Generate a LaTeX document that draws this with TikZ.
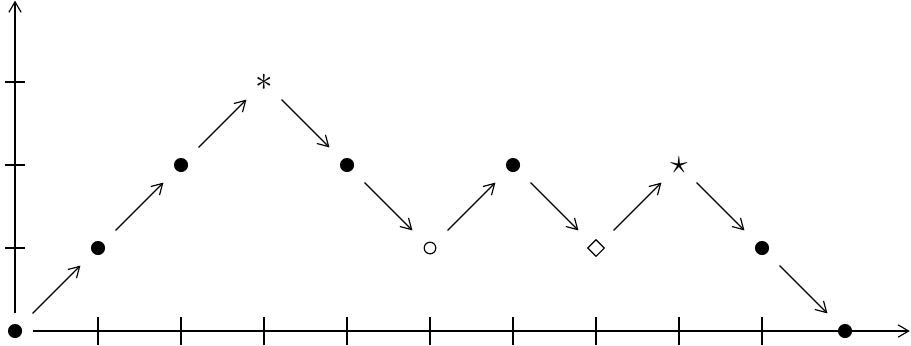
\documentclass[tikz,border=0pt]{standalone}
\usetikzlibrary{arrows.meta}
\begin{document}
\begin{tikzpicture}[x=1cm,y=1cm,
  line width=0.4pt,
  arr/.style={-{Straight Barb[length=3.6pt,width=4.2pt]}},
  pt/.style={rectangle, minimum size=0.41cm, inner sep=0pt},
  dotpt/.style={pt, path picture={\fill (path picture bounding box.center) circle (0.085);}},
  circpt/.style={pt, path picture={\draw (path picture bounding box.center) circle (0.07);}},
  diapt/.style={pt, path picture={\draw (path picture bounding box.center) ++(0.1,0) -- ++(-0.1,0.1) -- ++(-0.1,-0.1) -- ++(0.1,-0.1) -- cycle;}},
  sympt/.style={pt, font=\large},
  tick/.style={line width=0.4pt}
]
\useasboundingbox (-0.181,-0.169) rectangle (10.795,3.988);
% points
\node[dotpt] (p0) at (0,0) {};
\node[dotpt] (p1) at (1,1) {};
\node[dotpt] (p2) at (2,2) {};
\node[sympt] (p3) at (3,3) {$\ast$};
\node[dotpt] (p4) at (4,2) {};
\node[circpt] (p5) at (5,1) {};
\node[dotpt] (p6) at (6,2) {};
\node[diapt] (p7) at (7,1) {};
\node[sympt] (p8) at (8,2) {$\star$};
\node[dotpt] (p9) at (9,1) {};
\node[dotpt] (p10) at (10,0) {};
\coordinate (xend) at (10.78,0);
\coordinate (yend) at (0,3.98);
% axes
\draw[arr] (p0) -- (xend);
\draw[arr] (p0) -- (yend);
% ticks
\foreach \i in {1,...,9} \draw[tick] (\i,-0.17) -- (\i,0.17);
\foreach \j in {1,2,3} \draw[tick] (-0.12,\j) -- (0.12,\j);
% path arrows
\foreach \a/\b in {p0/p1,p1/p2,p2/p3,p3/p4,p4/p5,p5/p6,p6/p7,p7/p8,p8/p9,p9/p10}
  \draw[arr] (\a) -- (\b);
\end{tikzpicture}
\end{document}
